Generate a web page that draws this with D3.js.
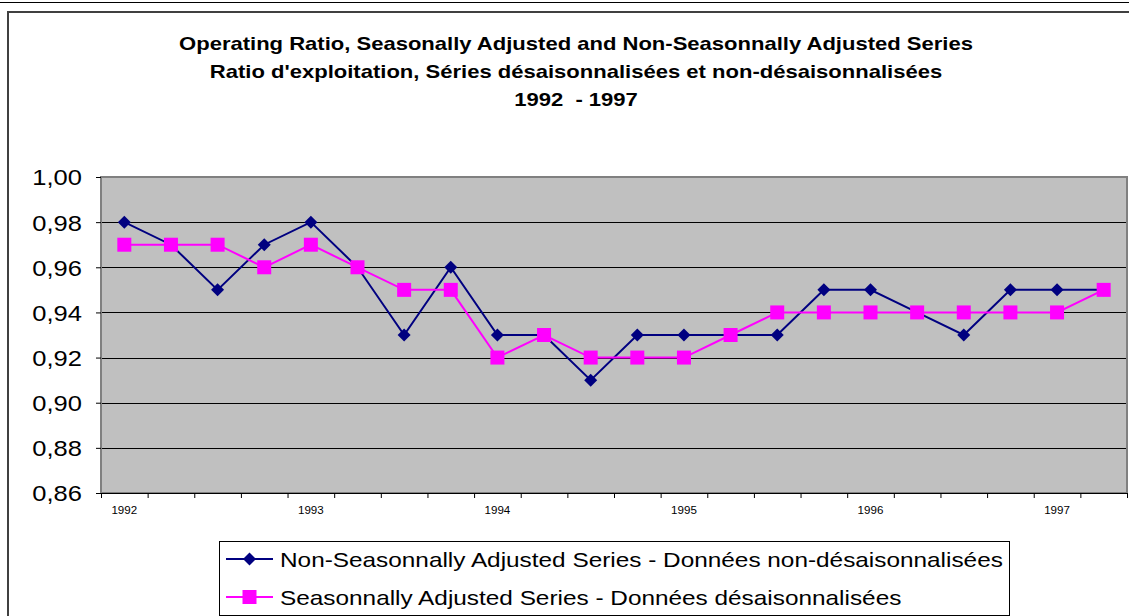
<!DOCTYPE html>
<html>
<head>
<meta charset="utf-8">
<script src="https://cdn.jsdelivr.net/npm/d3@7"></script>
<style>
  body { margin: 0; background: #fff; }
  svg { display: block; font-family: "Liberation Sans", Arial, sans-serif; }
</style>
</head>
<body>
<div id="chart"></div>
<script>
// data
var years = [1992, 1993, 1994, 1995, 1996, 1997];
var quarters = ["1992 Q1","1992 Q2","1992 Q3","1992 Q4",
                "1993 Q1","1993 Q2","1993 Q3","1993 Q4",
                "1994 Q1","1994 Q2","1994 Q3","1994 Q4",
                "1995 Q1","1995 Q2","1995 Q3","1995 Q4",
                "1996 Q1","1996 Q2","1996 Q3","1996 Q4",
                "1997 Q1","1997 Q2"];
var nonSeasonal = [0.98, 0.97, 0.95, 0.97, 0.98, 0.96, 0.93, 0.96,
                   0.93, 0.93, 0.91, 0.93, 0.93, 0.93, 0.93, 0.95,
                   0.95, 0.94, 0.93, 0.95, 0.95, 0.95];
var seasonal = [0.97, 0.97, 0.97, 0.96, 0.97, 0.96, 0.95, 0.95,
                0.92, 0.93, 0.92, 0.92, 0.92, 0.93, 0.94, 0.94,
                0.94, 0.94, 0.94, 0.94, 0.94, 0.95];
var yTicks = [0.86, 0.88, 0.90, 0.92, 0.94, 0.96, 0.98, 1.00];
var titleLines = ["Operating Ratio, Seasonally Adjusted and Non-Seasonnally Adjusted Series",
                  "Ratio d'exploitation, Séries désaisonnalisées et non-désaisonnalisées",
                  "1992  - 1997"];
var seriesNames = ["Non-Seasonnally Adjusted Series - Données non-désaisonnalisées",
                   "Seasonnally Adjusted Series - Données désaisonnalisées"];

function init() {
    var w = 1129, h = 616;
    var pLeft = 101, pRight = 1127, pTop = 177, pBottom = 493;
    var stretch = 1.16; // text in the original is a bit wide

    var svg = d3.select("#chart").append("svg")
        .attr("width", w)
        .attr("height", h);

    // frame lines
    svg.append("line").attr("x1", 0).attr("x2", w).attr("y1", 2.5).attr("y2", 2.5)
        .attr("stroke", "#000").attr("stroke-width", 1);
    svg.append("path")
        .attr("d", "M8,616 V12 H1129")
        .attr("fill", "none").attr("stroke", "#404040").attr("stroke-width", 2);

    // title
    svg.selectAll(".title").data(titleLines).enter().append("text")
        .attr("transform", function (d, i) {
            return "translate(576," + (50 + i * 28) + ") scale(" + stretch + ",1)";
        })
        .attr("text-anchor", "middle")
        .style("font-size", "19px")
        .style("font-weight", "bold")
        .style("white-space", "pre")
        .text(function (d) { return d; });

    var xScale = d3.scaleBand().domain(quarters).range([pLeft, pRight]).padding(0);
    var xEdge = d3.scaleLinear().domain([0, quarters.length]).range([pLeft, pRight]);
    var yScale = d3.scaleLinear().domain([0.86, 1.00]).range([pBottom, pTop]);

    // plot area
    svg.append("rect")
        .attr("x", pLeft).attr("y", pTop)
        .attr("width", pRight - pLeft).attr("height", pBottom - pTop)
        .attr("fill", "#c0c0c0");

    // gridlines
    svg.selectAll(".grid").data(yTicks.slice(1, -1)).enter().append("line")
        .attr("x1", pLeft).attr("x2", pRight)
        .attr("y1", function (d) { return Math.round(yScale(d)) + 0.5; })
        .attr("y2", function (d) { return Math.round(yScale(d)) + 0.5; })
        .attr("stroke", "#000").attr("stroke-width", 1);

    svg.append("rect")
        .attr("x", pLeft).attr("y", pTop)
        .attr("width", pRight - pLeft).attr("height", pBottom - pTop)
        .attr("fill", "none").attr("stroke", "#808080").attr("stroke-width", 2);

    // y axis
    var yAxis = d3.axisLeft(yScale)
        .tickValues(yTicks)
        .tickSize(5)
        .tickFormat(function (d) { return d3.format(".2f")(d).replace(".", ","); });

    var gy = svg.append("g")
        .attr("transform", "translate(" + pLeft + ",0)")
        .call(yAxis);
    gy.select(".domain").remove();
    gy.selectAll("line").attr("stroke", "#000");
    gy.selectAll("text")
        .attr("x", 0)
        .attr("dy", "0.36em")
        .attr("transform", "translate(-19,0) scale(" + stretch + ",1)")
        .style("font-size", "22px").attr("fill", "#000")
        .attr("font-family", null);

    // x axis ticks at category boundaries
    var xAxis = d3.axisBottom(xEdge)
        .tickValues(d3.range(quarters.length + 1))
        .tickSize(5)
        .tickFormat("");
    var gx = svg.append("g")
        .attr("transform", "translate(0," + pBottom + ")")
        .call(xAxis);
    gx.select(".domain").attr("stroke", "#000");
    gx.selectAll("line").attr("stroke", "#000");

    // year labels
    svg.selectAll(".year").data(years).enter().append("text")
        .attr("transform", function (d) {
            return "translate(" + (xScale(d + " Q1") + xScale.bandwidth() / 2) + ",514) scale(" + stretch + ",1)";
        })
        .attr("text-anchor", "middle")
        .style("font-size", "10px")
        .text(function (d) { return d; });

    function cx(d, i) { return xScale(quarters[i]) + xScale.bandwidth() / 2; }

    var line = d3.line()
        .x(function (d, i) { return cx(d, i); })
        .y(function (d) { return yScale(d); });

    var diamond = "M0,-6.5L6.5,0L0,6.5L-6.5,0Z";
    var square = "M-7,-7H7V7H-7Z";

    // non-seasonal series
    svg.append("path").datum(nonSeasonal)
        .attr("d", line)
        .attr("fill", "none").attr("stroke", "#000080").attr("stroke-width", 2);

    // seasonal series
    svg.append("path").datum(seasonal)
        .attr("d", line)
        .attr("fill", "none").attr("stroke", "#ff00ff").attr("stroke-width", 2);

    svg.selectAll(".nsa").data(nonSeasonal).enter().append("path")
        .attr("d", diamond)
        .attr("transform", function (d, i) { return "translate(" + cx(d, i) + "," + yScale(d) + ")"; })
        .attr("fill", "#000080");

    svg.selectAll(".sa").data(seasonal).enter().append("path")
        .attr("d", square)
        .attr("transform", function (d, i) { return "translate(" + cx(d, i) + "," + yScale(d) + ")"; })
        .attr("fill", "#ff00ff");

    // legend
    var legend = svg.append("g");
    legend.append("rect")
        .attr("x", 219.5).attr("y", 541.5)
        .attr("width", 790).attr("height", 74)
        .attr("fill", "#fff").attr("stroke", "#000").attr("stroke-width", 1);

    var legendColors = ["#000080", "#ff00ff"];
    var legendMarks = [diamond, square];
    var rows = legend.selectAll(".row").data(seriesNames).enter().append("g")
        .attr("transform", function (d, i) { return "translate(0," + (559 + i * 38) + ")"; });
    rows.append("line")
        .attr("x1", 226).attr("x2", 273).attr("y1", 0).attr("y2", 0)
        .attr("stroke", function (d, i) { return legendColors[i]; })
        .attr("stroke-width", 2);
    rows.append("path")
        .attr("d", function (d, i) { return legendMarks[i]; })
        .attr("transform", "translate(249.5,0)")
        .attr("fill", function (d, i) { return legendColors[i]; });
    rows.append("text")
        .attr("transform", "translate(280,8) scale(" + stretch + ",1)")
        .style("font-size", "21px")
        .text(function (d) { return d; });
}

window.onload = init;
</script>
</body>
</html>
